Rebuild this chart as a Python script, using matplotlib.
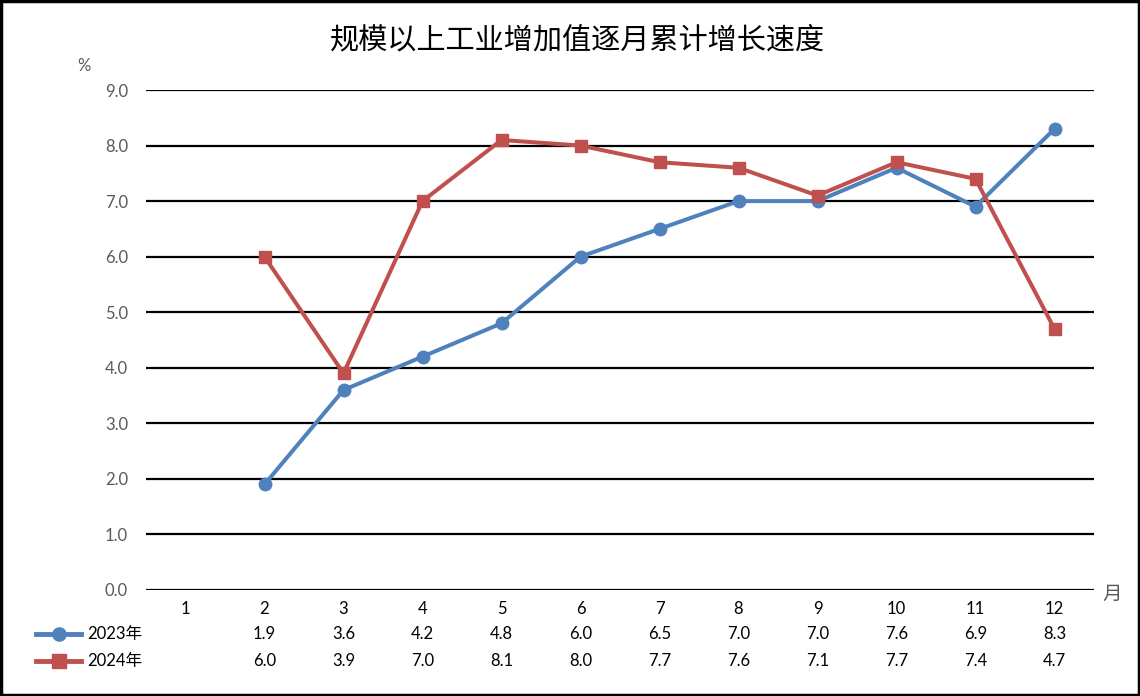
import matplotlib
matplotlib.use("Agg")
import matplotlib.pyplot as plt
from matplotlib.lines import Line2D
from matplotlib.patches import Rectangle

plt.rcParams['font.family'] = ['Lato', 'Noto Sans CJK SC', 'DejaVu Sans']

# data
months = [1, 2, 3, 4, 5, 6, 7, 8, 9, 10, 11, 12]
m_data = [2, 3, 4, 5, 6, 7, 8, 9, 10, 11, 12]
y2023 = [1.9, 3.6, 4.2, 4.8, 6.0, 6.5, 7.0, 7.0, 7.6, 6.9, 8.3]
y2024 = [6.0, 3.9, 7.0, 8.1, 8.0, 7.7, 7.6, 7.1, 7.7, 7.4, 4.7]
series_names = ['2023年', '2024年']
yticks = [0, 1, 2, 3, 4, 5, 6, 7, 8, 9]

blue = '#4F81BD'
red = '#C0504D'

fig = plt.figure(figsize=(11.4, 6.96), dpi=100)
ax = fig.add_axes([146/1140, 106/696, 948/1140, 500/696])

ax.plot(m_data, y2023, color=blue, lw=2.9, marker='o', ms=9, zorder=3)
ax.plot(m_data, y2024, color=red, lw=2.9, marker='s', ms=9, zorder=4)

ax.set_xlim(0.5, 12.5)
ax.set_ylim(0, 9)
ax.set_yticks(yticks)
ax.set_yticklabels([f'{v:.1f}' for v in yticks], color='#595959', fontsize=12)
ax.set_xticks(months)
ax.set_xticklabels([str(m) for m in months], fontsize=12)
ax.tick_params(axis='y', length=0, pad=13)
ax.tick_params(axis='x', length=0, pad=8)
ax.grid(axis='y', color='black', lw=1.6)
ax.set_axisbelow(True)
for s in ax.spines.values():
    s.set_visible(False)

# title and unit labels
fig.text(578/1140, 1 - 40/696, '规模以上工业增加值逐月累计增长速度', fontsize=21,
         ha='center', va='center', family=['Noto Sans CJK SC'])
fig.text(84/1140, 1 - 66/696, '%', fontsize=12, ha='center', va='center', color='#595959')
fig.text(1112/1140, 1 - 594/696, '月', fontsize=14, ha='center', va='center',
         color='#595959', family=['Noto Sans CJK SC'])

# data table rows
trans = ax.get_xaxis_transform()
rows = [(y2023, blue, 'o', -44/500), (y2024, red, 's', -71/500)]
for (vals, c, mk, yy), name in zip(rows, series_names):
    for m, v in zip(m_data, vals):
        ax.text(m, yy, f'{v:.1f}', transform=trans, ha='center', va='center',
                fontsize=12, clip_on=False)
    yf = 1 - (590 - yy * 500) / 696
    fig.add_artist(Line2D([36/1140, 81/1140], [yf, yf], color=c, lw=3.5))
    fig.add_artist(Line2D([58.5/1140], [yf], color=c, marker=mk, ms=9.5))
    fig.text(87/1140, yf, name, fontsize=12, ha='left', va='center')

# outer border
fig.add_artist(Rectangle((0.001, 0.0015), 0.998, 0.997, transform=fig.transFigure,
                         fill=False, edgecolor='black', lw=2.5))

fig.savefig('out.png', dpi=100)
